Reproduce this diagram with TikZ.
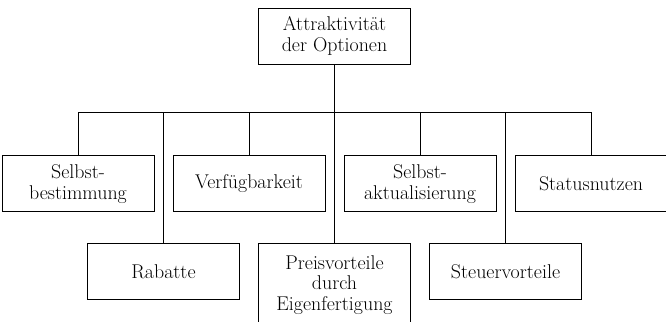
\documentclass[tikz,border=0pt]{standalone}
\usetikzlibrary{positioning}

\begin{document}
\begin{tikzpicture}[
      opt/.style={rectangle, draw=black, line width=0.7pt,
                  minimum width=4.56cm, minimum height=1.68cm,
                  inner sep=1pt, align=center,
                  font=\fontsize{17}{17.5}\selectfont},
      lang/.style={opt, minimum height=2.46cm},
      verb/.style={line width=0.7pt},
    ]
      \useasboundingbox (0,0) rectangle (19.98,-9.63);
      \clip (0,0) rectangle (19.98,-9.63);

      \node[opt] (attr) at (10.035,-1.08) {Attraktivit\"at\\der Optionen};
      \node[opt, below=2.73cm of attr, xshift=-7.695cm] (sb) {Selbst-\\bestimmung};
      \node[opt, below=2.73cm of attr, xshift=-2.565cm] (vf) {Verf\"ugbarkeit};
      \node[opt, below=2.73cm of attr, xshift=2.565cm]  (sa) {Selbst-\\aktualisierung};
      \node[opt, below=2.73cm of attr, xshift=7.695cm]  (sn) {Statusnutzen};
      \node[opt, below=5.37cm of attr, xshift=-5.13cm]  (rab) {Rabatte};
      \node[lang, below=5.37cm of attr]                 (pv) {Preisvorteile\\durch\\Eigenfertigung};
      \node[opt, below=5.37cm of attr, xshift=5.13cm]   (stv) {Steuervorteile};
      \coordinate (bus) at ([yshift=-1.425cm]attr.south);

      \draw[verb] (attr)--(pv);
      \draw[verb] (sb.north)|-(bus)-|(sn.north);
      \foreach \n in {vf, sa, rab, stv}
        \draw[verb] (\n.north)--(\n.north |- bus);
    \end{tikzpicture}
\end{document}
